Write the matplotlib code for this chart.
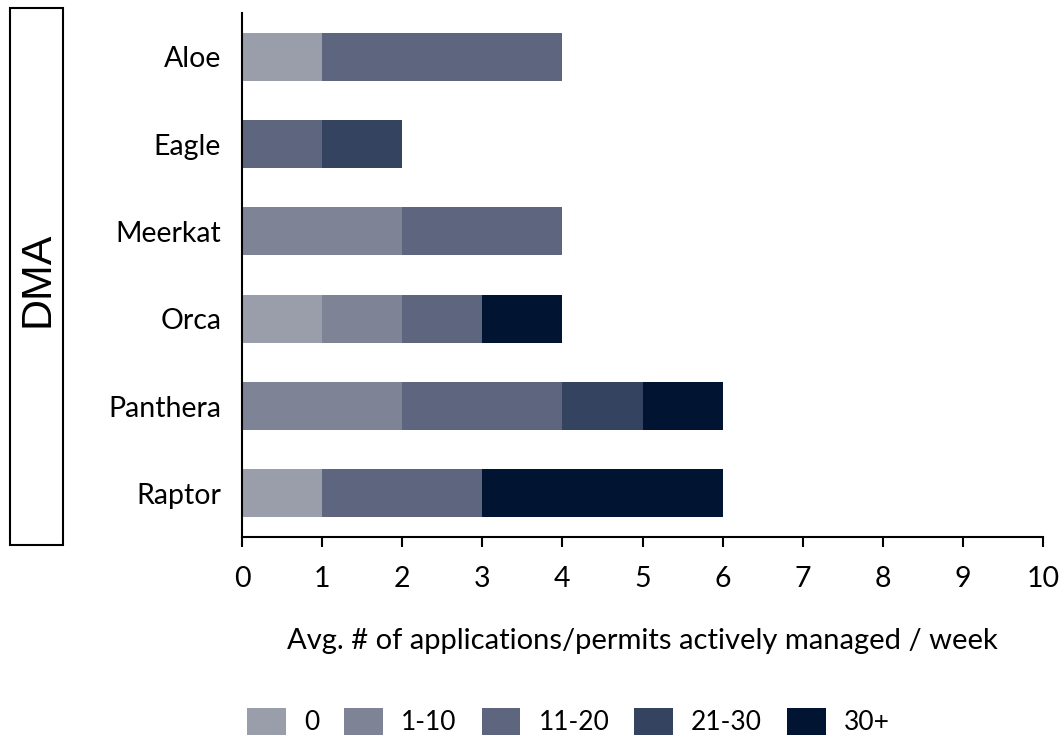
import numpy as np
import matplotlib.pyplot as plt
from matplotlib.patches import Rectangle

# Data
DMAS = ["Aloe", "Eagle", "Meerkat", "Orca", "Panthera", "Raptor"]
BINS = ["0", "1-10", "11-20", "21-30", "30+"]

BIN_0 = [1, 0, 0, 1, 0, 1]
BIN_1_10 = [0, 0, 2, 1, 2, 0]
BIN_11_20 = [3, 1, 2, 1, 2, 2]
BIN_21_30 = [0, 1, 0, 0, 1, 0]
BIN_30P = [0, 0, 0, 1, 1, 3]

X_TICKS = list(range(0, 11))

COLORS = ['#9a9eab', '#7f8396', '#5e657e', '#334360', '#011532']

plt.rcParams['font.family'] = ['Lato', 'DejaVu Sans']


def plot_chart():
  fig = plt.figure(figsize=(10.63, 7.39), dpi=100)
  ax = fig.add_axes([0.2277, 0.2733, 0.7535, 0.7091])

  series = [BIN_0, BIN_1_10, BIN_11_20, BIN_21_30, BIN_30P]
  y = np.arange(len(DMAS))
  left = np.zeros(len(DMAS))
  for idx, vals in enumerate(series):
    vals = np.array(vals, dtype=float)
    ax.barh(y, vals, left=left, height=0.55,
            color=COLORS[idx], label=BINS[idx],
            edgecolor='none')
    left += vals

  ax.set_ylim(5.5, -0.5)
  ax.set_xlim(0, 10)
  ax.set_yticks(y)
  ax.set_yticklabels(DMAS)
  ax.set_xticks(X_TICKS)

  for s in ['top', 'right']:
    ax.spines[s].set_visible(False)
  for s in ['left', 'bottom']:
    ax.spines[s].set_linewidth(1.5)
  ax.tick_params(axis='y', length=0, pad=15, labelsize=20.5)
  ax.tick_params(axis='x', length=7, width=1.5, direction='out',
                 pad=14, labelsize=20.5)

  ax.set_xlabel("Avg. # of applications/permits actively managed / week",
                fontsize=21, labelpad=26)

  # boxed "DMA" label on the left
  fig.patches.append(Rectangle((10 / 1063, 1 - 545 / 739), 53 / 1063, 537 / 739,
                               transform=fig.transFigure, fill=False,
                               edgecolor='black', linewidth=1.5))
  fig.text(37 / 1063, 1 - 279 / 739, "DMA", rotation=90,
           ha='center', va='center', fontsize=31,
           family=['Liberation Sans', 'DejaVu Sans'])

  fig.legend(loc='center', bbox_to_anchor=(0.535, 0.024), ncol=5,
             frameon=False, fontsize=19, handlelength=1.45,
             handleheight=1.2, handletextpad=0.7, columnspacing=0.95)

  plt.savefig("out.png", dpi=100)


if __name__ == "__main__":
  plot_chart()
